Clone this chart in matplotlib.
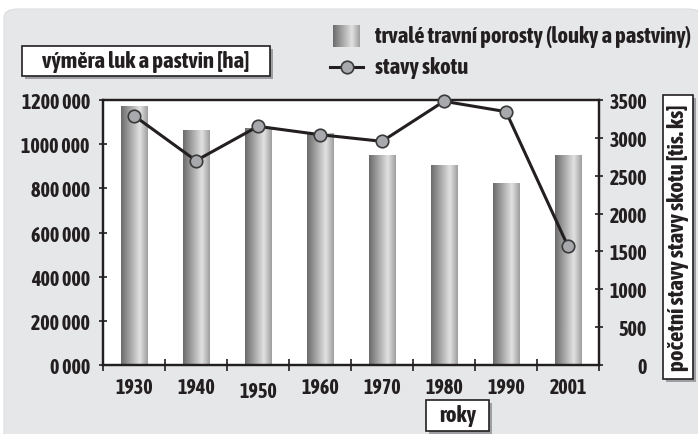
import matplotlib
matplotlib.use("Agg")
import matplotlib.pyplot as plt
import matplotlib.patches as mpatches
from matplotlib.lines import Line2D
from matplotlib import font_manager as fm
import numpy as np


def wnum(w):
    if isinstance(w, (int, float)):
        return w
    return fm.weight_dict.get(str(w).lower(), 400)


# pick a bold narrow face if one is around (closest to 700), else DejaVu bold
cands = [f for f in fm.fontManager.ttflist if 'Condensed' in f.name or 'Narrow' in f.name]
if cands:
    best = min(cands, key=lambda f: abs(wnum(f.weight) - 700))
    fam, wt = best.name, wnum(best.weight)
else:
    fam, wt = 'DejaVu Sans', 700
plt.rcParams['font.family'] = [fam, 'DejaVu Sans']
plt.rcParams['font.weight'] = wt

# data
roky = ['1930', '1940', '1950', '1960', '1970', '1980', '1990', '2001']
vymera_ha = [1174000, 1064000, 1073000, 1049000, 951000, 906000, 824000, 951000]
skot_tis = [3293, 2699, 3152, 3042, 2954, 3483, 3346, 1567]

left_ticks = [0, 200000, 400000, 600000, 800000, 1000000, 1200000]
right_ticks = [0, 500, 1000, 1500, 2000, 2500, 3000, 3500]

dark = '#231f20'
panel = '#e6e7e8'
W, H = 698, 435

fig = plt.figure(figsize=(6.98, 4.35), dpi=100)
fig.patch.set_facecolor('white')


def fit_size(s, target_px, base=13):
    t = fig.text(0, 0, s, fontsize=base, fontweight=wt)
    fig.canvas.draw()
    w = t.get_window_extent().width
    t.remove()
    return base * target_px / w


fs_lab = fit_size('výměra luk a pastvin [ha]', 208)
fs_tick = fit_size('1200 000', 68)
fs_leg = fit_size('trvalé travní porosty (louky a pastviny)', 316)

# grey panel behind everything
bg = mpatches.FancyBboxPatch((4/W, -0.05), 1.0, 1 - 10/H + 0.05,
                             boxstyle="round,pad=0,rounding_size=0.02",
                             transform=fig.transFigure, fc=panel, ec='#dcdddf',
                             lw=0.8, zorder=-10)
fig.patches.append(bg)

ax = fig.add_axes([103/W, 1 - 366/H, 496/W, 265/H])
ax.set_facecolor('white')
x = np.arange(len(roky))

# gradient for the bars (dark left, light, darker right)
grad = np.concatenate([np.linspace(0.42, 0.88, 70), np.linspace(0.88, 0.62, 30)])
grad_img = np.tile(grad, (2, 1))

bars = ax.bar(x, vymera_ha, width=0.42, color='none', edgecolor='none', zorder=2)
for b in bars:
    x0, y0 = b.get_x(), b.get_y()
    im = ax.imshow(grad_img, cmap='gray', vmin=0, vmax=1, aspect='auto',
                   extent=[x0, x0 + b.get_width(), y0, y0 + b.get_height()],
                   zorder=2, interpolation='bilinear')
    im.set_clip_path(b)

ax.set_xlim(-0.5, len(roky) - 0.5)
ax.set_ylim(0, 1200000)
ax.set_yticks(left_ticks)
ax.set_yticklabels([f"{int(v/1000)} 000" for v in left_ticks])
ax.set_xticks(x)
ax.set_xticklabels(roky)
ax.set_xticks(np.arange(-0.5, len(roky)), minor=True)
ax.tick_params(axis='x', which='major', length=0, pad=9, labelsize=fs_tick)
ax.tick_params(axis='x', which='minor', length=8, direction='inout', width=1.2, color=dark)
ax.tick_params(axis='y', length=6, direction='inout', width=1.2, color=dark,
               labelsize=fs_tick, pad=6.5)
for lab in ax.get_xticklabels():
    if lab.get_text() == '1950':
        lab.set_y(-0.012)
for s in ax.spines.values():
    s.set_linewidth(1.6)
    s.set_color(dark)

ax2 = ax.twinx()
ax2.plot(x, skot_tis, color=dark, lw=2.2, marker='o', markersize=9,
         markerfacecolor='#a7a9ac', markeredgecolor='#3a3a3a', markeredgewidth=1.2,
         zorder=5, clip_on=False)
ax2.set_ylim(0, 3500)
ax2.set_yticks(right_ticks)
ax2.tick_params(axis='y', length=6, direction='inout', width=1.2, color=dark,
                labelsize=fs_tick, pad=31.5)
for lab in ax2.get_yticklabels():
    lab.set_horizontalalignment('right')
for s in ax2.spines.values():
    s.set_linewidth(1.6)
    s.set_color(dark)
for lab in ax.get_xticklabels() + ax.get_yticklabels() + ax2.get_yticklabels():
    lab.set_color(dark)


def label_box(x0, y0, x1, y1, text, rot=0, fs=13):
    # pixel coords from top-left
    sh = mpatches.Rectangle((x0 / W + 3 / W, 1 - y1 / H - 3 / H), (x1 - x0) / W, (y1 - y0) / H,
                            transform=fig.transFigure, fc='#9d9fa2', ec='none', zorder=3)
    bx = mpatches.Rectangle((x0 / W, 1 - y1 / H), (x1 - x0) / W, (y1 - y0) / H,
                            transform=fig.transFigure, fc='white', ec=dark, lw=1.2, zorder=4)
    fig.patches.extend([sh, bx])
    fig.text((x0 + x1) / 2 / W, 1 - (y0 + y1) / 2 / H, text, rotation=rot,
             ha='center', va='center', fontsize=fs, color=dark, zorder=5)


label_box(22, 47, 270, 77, 'výměra luk a pastvin [ha]', fs=fs_lab)
label_box(663, 96, 693, 380, 'početní stavy stavy skotu [tis. ks]', rot=90, fs=fs_lab)
label_box(426, 401, 489, 432, 'roky', fs=fs_lab)

# legend, drawn by hand
lax = fig.add_axes([333/W, 1 - 48/H, 27/W, 22/H])
lax.imshow(grad_img, cmap='gray', vmin=0, vmax=1, aspect='auto', interpolation='bilinear')
lax.axis('off')
fig.text(375/W, 1 - 37/H, 'trvalé travní porosty (louky a pastviny)',
         ha='left', va='center', fontsize=fs_leg, color=dark)
fig.lines.append(Line2D([330/W, 363/W], [1 - 68/H, 1 - 68/H],
                        transform=fig.transFigure, color=dark, lw=2.2, zorder=5))
fig.lines.append(Line2D([346.5/W], [1 - 68/H], transform=fig.transFigure,
                        marker='o', markersize=9, markerfacecolor='#a7a9ac',
                        markeredgecolor='#3a3a3a', markeredgewidth=1.2, zorder=6))
fig.text(375/W, 1 - 68/H, 'stavy skotu',
         ha='left', va='center', fontsize=fs_leg, color=dark)

fig.savefig('out.png', dpi=100)
